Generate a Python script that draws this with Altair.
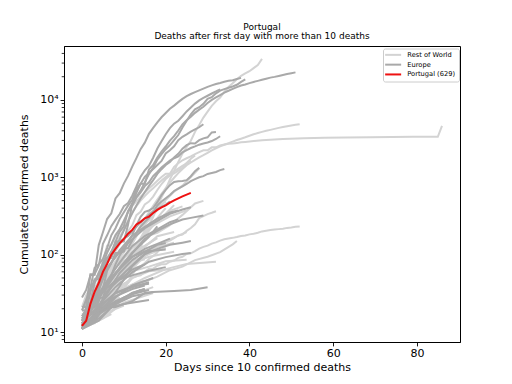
import altair as alt
import pandas as pd

# ---------------- data (days since first day with >10 deaths) ----------------
# daily lists start at day 0; lists of (day, value) pairs are sparse readings
US = [11, 12, 14, 17, 21, 22, 28, 36, 40, 47, 54, 63, 85, 108, 118, 200, 244, 307, 427, 552,
      706, 942, 1209, 1581, 2026, 2467, 2978, 3873, 4757, 5926, 7087, 8407, 9619, 10783,
      12722, 14695, 16478, 18586, 20463, 22020, 23529, 25832, 28325, 34000]
CHINA = [(0, 17), (1, 18), (2, 26), (3, 42), (4, 56), (5, 82), (6, 131), (7, 133), (8, 171),
         (9, 213), (10, 259), (11, 361), (12, 425), (13, 490), (14, 562), (15, 632), (16, 717),
         (17, 804), (18, 904), (19, 1011), (20, 1111), (21, 1116), (22, 1368), (23, 1520),
         (24, 1662), (25, 1765), (26, 1863), (27, 2002), (28, 2114), (29, 2236), (30, 2236),
         (31, 2441), (32, 2443), (33, 2593), (34, 2663), (35, 2715), (36, 2744), (37, 2788),
         (38, 2835), (39, 2870), (43, 3015), (48, 3136), (53, 3199), (58, 3249), (63, 3283),
         (69, 3309), (74, 3329), (79, 3339), (85, 3342), (86, 4636)]
IRAN = [12, 16, 19, 26, 34, 43, 54, 66, 77, 92, 107, 124, 145, 194, 237, 291, 354, 429, 514,
        611, 724, 853, 988, 1135, 1284, 1433, 1556, 1685, 1812, 1934, 2077, 2234, 2378, 2517,
        2640, 2757, 2898, 3036, 3160, 3294, 3452, 3603, 3739, 3872, 3993, 4110, 4232, 4357,
        4474, 4585, 4683, 4777, 4869]
KOREA = [11, 12, 13, 13, 16, 17, 28, 28, 35, 35, 42, 44, 50, 53, 54, 60, 66, 66, 72, 75, 75,
         81, 84, 91, 94, 102, 104, 111, 120, 126, 131, 139, 144, 152, 158, 162, 165, 169, 174,
         177, 183, 186, 192, 200, 204, 208, 211, 214, 217, 222, 225, 229, 232]
JAPAN = [(0, 15), (3, 21), (6, 28), (9, 33), (12, 41), (15, 45), (18, 52), (21, 63), (24, 70),
         (27, 85), (30, 94), (33, 108), (36, 136), (37, 150)]
PHILIPPINES = [12, 12, 14, 17, 17, 19, 25, 25, 33, 35, 38, 45, 54, 68, 71, 78, 88, 96, 107,
               136, 144, 152, 163, 177, 182, 203, 221, 247, 297, 315, 335, 349, 365]
BRAZIL = [11, 15, 25, 34, 46, 59, 77, 92, 111, 136, 159, 201, 240, 324, 359, 445, 486, 564,
          686, 819, 950, 1057, 1124, 1223, 1328, 1532, 1736, 1924]
TURKEY = [21, 30, 37, 44, 59, 75, 92, 108, 131, 168, 214, 277, 356, 425, 501, 574, 649, 725,
          812, 908, 1006, 1101, 1198, 1296, 1403, 1518, 1643]
CANADA = [(0, 12), (2, 13), (4, 24), (6, 35), (8, 54), (10, 89), (12, 137), (14, 217),
          (16, 280), (18, 381), (20, 507), (22, 654), (24, 780), (26, 1010), (28, 1310)]
MEXICO = [12, 16, 20, 28, 29, 37, 50, 60, 79, 94, 125, 141, 174, 194, 233, 273, 296, 332,
          406, 449, 486]
INDIA = [(0, 12), (3, 19), (6, 32), (8, 41), (11, 83), (14, 149), (17, 239), (20, 339), (22, 437)]
INDONESIA = [(0, 19), (3, 38), (6, 55), (9, 87), (12, 122), (15, 170), (18, 191), (21, 240),
             (24, 327), (27, 459), (29, 496)]
ECUADOR = [(0, 14), (3, 28), (6, 58), (9, 98), (12, 172), (15, 220), (18, 272), (21, 369), (24, 421)]
PERU = [(0, 11), (4, 24), (8, 73), (12, 121), (16, 216), (19, 348), (20, 400)]
ALGERIA = [(0, 15), (3, 21), (6, 31), (9, 44), (12, 105), (15, 205), (18, 256), (21, 313), (25, 375)]
EGYPT = [(0, 14), (3, 24), (6, 36), (10, 52), (13, 78), (17, 118), (21, 159), (25, 196)]
DOMINICAN = [(0, 11), (3, 28), (6, 51), (9, 86), (12, 108), (15, 126), (18, 173), (22, 196)]
ARGENTINA = [(0, 12), (4, 27), (8, 48), (12, 82), (16, 102), (20, 122)]
COLOMBIA = [(0, 12), (4, 25), (8, 54), (12, 100), (17, 153)]
PAKISTAN = [(0, 11), (4, 21), (8, 45), (12, 66), (15, 96), (18, 130)]
ISRAEL = [(0, 12), (4, 36), (8, 73), (12, 110), (15, 130), (18, 164)]
IRAQ = [(0, 11), (5, 20), (10, 36), (15, 50), (20, 65), (25, 76), (32, 81)]
CHILE = [(0, 12), (4, 22), (8, 48), (12, 73), (16, 105)]
PANAMA = [(0, 14), (4, 30), (8, 55), (12, 79), (16, 94), (22, 109)]
MOROCCO = [(0, 11), (4, 26), (8, 70), (12, 97), (16, 118), (22, 143)]
MALAYSIA = [(0, 14), (4, 27), (8, 43), (12, 61), (16, 70), (20, 82), (25, 86)]
AUSTRALIA = [(0, 13), (4, 20), (8, 35), (12, 50), (16, 61), (21, 65)]
SAUDI = [(0, 21), (4, 38), (8, 59), (12, 79), (15, 87)]
SOUTH_AFRICA = [(0, 11), (4, 18), (8, 27), (12, 50)]
BANGLADESH = [(0, 12), (4, 27), (8, 46), (11, 60)]
THAILAND = [(0, 12), (4, 20), (8, 33), (12, 41), (15, 46)]
TUNISIA = [(0, 12), (5, 18), (10, 28), (17, 38)]
BURKINA = [(0, 12), (5, 16), (10, 24), (17, 32)]
HONDURAS = [(0, 15), (5, 22), (10, 35), (15, 46)]
CUBA = [(0, 12), (5, 18), (9, 24)]
BOLIVIA = [(0, 11), (5, 20), (9, 28)]
AFGHANISTAN = [(0, 14), (5, 18), (9, 25)]
CAMEROON = [(0, 12), (5, 17), (10, 22)]
NIGER = [(0, 11), (5, 15), (8, 20)]
NIGERIA = [(0, 11), (4, 14), (7, 17)]

ITALY = [12, 17, 21, 29, 34, 52, 79, 107, 148, 197, 233, 366, 463, 631, 827, 827, 1266, 1441,
         1809, 2158, 2503, 2978, 3405, 4032, 4825, 5476, 6077, 6820, 7503, 8165, 9134, 10023,
         10779, 11591, 12428, 13155, 13915, 14681, 15362, 15887, 16523, 17127, 17669, 18279,
         18849, 19468, 19899, 20465, 21067, 21645, 22170, 22745]
SPAIN = [28, 35, 54, 55, 133, 195, 289, 342, 533, 623, 830, 1043, 1375, 1772, 2311, 2808, 3647,
         4365, 5138, 5982, 6803, 7716, 8464, 9387, 10348, 11198, 11947, 12641, 13341, 14045,
         14792, 15447, 16081, 16606, 17209, 17756, 18056, 18708, 19315]
FRANCE = [19, 19, 33, 48, 48, 79, 91, 91, 148, 148, 148, 243, 450, 562, 674, 860, 1100, 1331,
          1696, 1995, 2314, 2606, 3024, 3523, 4403, 5387, 6507, 7560, 8078, 8911, 10328, 10869,
          12210, 13197, 13832, 14393, 14967, 15729, 17167, 18500]
UK = [21, 21, 56, 56, 72, 138, 178, 234, 282, 336, 423, 466, 580, 761, 1021, 1231, 1411, 1793,
      2357, 2926, 3611, 4320, 4943, 5385, 6171, 7111, 7993, 8974, 9892, 10629, 11347, 12129,
      12894, 13759]
BELGIUM = [14, 21, 37, 67, 75, 88, 122, 178, 220, 289, 353, 431, 513, 705, 828, 1011, 1143,
           1283, 1447, 1632, 2035, 2240, 2523, 3019, 3346, 3600, 3903, 4157, 4440, 4857]
GERMANY = [11, 17, 24, 28, 44, 67, 84, 94, 123, 157, 206, 267, 342, 433, 533, 645, 775, 920,
           1107, 1275, 1444, 1584, 1810, 2016, 2349, 2607, 2767, 2736, 3022, 3194, 3294, 3804, 3860]
NETHERLANDS = [12, 20, 24, 43, 58, 76, 106, 136, 179, 213, 276, 356, 434, 546, 639, 771, 864,
               1039, 1173, 1339, 1487, 1651, 1766, 1867, 2101, 2248, 2396, 2511, 2643, 2737,
               2823, 2945, 3134, 3400]
SWITZERLAND = [11, 13, 14, 14, 27, 28, 41, 54, 75, 98, 120, 122, 153, 191, 231, 264, 300, 359,
               433, 488, 536, 591, 666, 715, 765, 821, 895, 948, 1002, 1036, 1106, 1138, 1174,
               1239, 1281]
SWEDEN = [11, 16, 20, 21, 25, 36, 62, 77, 105, 105, 110, 146, 180, 239, 308, 358, 373, 401,
          477, 591, 687, 793, 870, 887, 899, 919, 1033, 1203, 1333]
IRELAND = [(0, 19), (2, 36), (5, 71), (8, 137), (11, 174), (14, 263), (17, 365), (20, 444), (21, 486)]
AUSTRIA = [(0, 16), (3, 28), (6, 68), (9, 108), (12, 158), (15, 220), (18, 273), (21, 337),
           (24, 384), (26, 410)]
DENMARK = [(0, 14), (3, 24), (6, 41), (9, 65), (12, 104), (15, 161), (18, 203), (21, 247),
           (24, 285), (26, 299), (29, 321)]
POLAND = [(0, 16), (3, 26), (6, 46), (9, 79), (12, 129), (15, 174), (18, 212), (21, 263), (23, 286)]
ROMANIA = [(0, 11), (3, 26), (6, 65), (9, 115), (12, 176), (15, 229), (18, 293), (21, 351), (23, 372)]
NORWAY = [(0, 12), (3, 14), (6, 23), (9, 39), (12, 71), (15, 101), (18, 119), (21, 134),
          (24, 143), (26, 150)]
CZECHIA = [(0, 11), (3, 23), (6, 39), (9, 67), (12, 94), (15, 119), (18, 138), (21, 161)]
HUNGARY = [(0, 11), (3, 16), (6, 32), (9, 58), (12, 85), (15, 109), (18, 134), (20, 142)]
GREECE = [(0, 13), (4, 22), (8, 38), (12, 59), (16, 81), (20, 93), (24, 102), (26, 105)]
FINLAND = [(0, 11), (3, 17), (6, 34), (9, 48), (12, 64), (15, 75)]
SERBIA = [(0, 13), (3, 23), (6, 44), (9, 65), (12, 94), (15, 110), (20, 117)]
LUXEMBOURG = [(0, 15), (4, 30), (8, 46), (12, 54), (16, 62), (20, 69)]
SLOVENIA = [(0, 11), (4, 17), (8, 28), (12, 40), (17, 50)]
BOSNIA = [(0, 13), (4, 21), (8, 32), (12, 39), (16, 42)]
MACEDONIA = [(0, 11), (4, 20), (8, 32), (12, 38), (16, 44)]
MOLDOVA = [(0, 12), (4, 19), (8, 29), (12, 36), (15, 40)]
CROATIA = [(0, 12), (4, 18), (8, 25), (12, 31), (16, 35)]
SAN_MARINO = [(0, 14), (4, 20), (8, 21), (12, 25), (15, 32), (17, 33), (22, 34), (26, 35), (30, 38)]
BULGARIA = [(0, 11), (4, 14), (8, 24), (12, 32), (15, 36)]
ALBANIA = [(0, 15), (5, 20), (10, 23), (16, 26)]
ESTONIA = [(0, 11), (4, 19), (8, 24), (12, 31), (14, 35)]
LITHUANIA = [(0, 11), (4, 15), (8, 23), (12, 32), (15, 36)]
ANDORRA = [(0, 12), (4, 17), (8, 23), (12, 29), (17, 33)]
UKRAINE = [(0, 13), (4, 22), (8, 45), (12, 73), (16, 116)]
RUSSIA = [(0, 11), (4, 30), (8, 58), (12, 106), (16, 170), (18, 232)]

PORTUGAL = [12, 14, 23, 33, 43, 60, 76, 100, 119, 140, 160, 187, 209, 246, 266, 295, 311, 345,
            380, 409, 435, 470, 504, 535, 567, 599, 629]

REST_OF_WORLD = {
    "United States": US, "China": CHINA, "Iran": IRAN, "South Korea": KOREA, "Japan": JAPAN,
    "Philippines": PHILIPPINES, "Brazil": BRAZIL, "Turkey": TURKEY, "Canada": CANADA,
    "Mexico": MEXICO, "India": INDIA, "Indonesia": INDONESIA, "Ecuador": ECUADOR, "Peru": PERU,
    "Algeria": ALGERIA, "Egypt": EGYPT, "Dominican Republic": DOMINICAN, "Argentina": ARGENTINA,
    "Colombia": COLOMBIA, "Pakistan": PAKISTAN, "Israel": ISRAEL, "Iraq": IRAQ, "Chile": CHILE,
    "Panama": PANAMA, "Morocco": MOROCCO, "Malaysia": MALAYSIA, "Australia": AUSTRALIA,
    "Saudi Arabia": SAUDI, "South Africa": SOUTH_AFRICA, "Bangladesh": BANGLADESH,
    "Thailand": THAILAND, "Tunisia": TUNISIA, "Burkina Faso": BURKINA, "Honduras": HONDURAS,
    "Cuba": CUBA, "Bolivia": BOLIVIA, "Afghanistan": AFGHANISTAN, "Cameroon": CAMEROON,
    "Niger": NIGER, "Nigeria": NIGERIA,
}
EUROPE = {
    "Italy": ITALY, "Spain": SPAIN, "France": FRANCE, "United Kingdom": UK, "Belgium": BELGIUM,
    "Germany": GERMANY, "Netherlands": NETHERLANDS, "Switzerland": SWITZERLAND, "Sweden": SWEDEN,
    "Ireland": IRELAND, "Austria": AUSTRIA, "Denmark": DENMARK, "Poland": POLAND,
    "Romania": ROMANIA, "Norway": NORWAY, "Czechia": CZECHIA, "Hungary": HUNGARY,
    "Greece": GREECE, "Finland": FINLAND, "Serbia": SERBIA, "Luxembourg": LUXEMBOURG,
    "Slovenia": SLOVENIA, "Bosnia": BOSNIA, "North Macedonia": MACEDONIA, "Moldova": MOLDOVA,
    "Croatia": CROATIA, "San Marino": SAN_MARINO, "Bulgaria": BULGARIA, "Albania": ALBANIA,
    "Estonia": ESTONIA, "Lithuania": LITHUANIA, "Andorra": ANDORRA, "Ukraine": UKRAINE,
    "Russia": RUSSIA,
}

GROUPS = ["Rest of World", "Europe", "Portugal (629)"]
COLORS = ["#d3d3d3", "#a9a9a9", "#ee1111"]
X_TICKS = [0, 20, 40, 60, 80]
Y_TICKS = [10, 100, 1000, 10000]
Y_MINOR = [8, 9, 20, 30, 40, 50, 60, 70, 80, 90, 200, 300, 400, 500, 600, 700, 800, 900,
           2000, 3000, 4000, 5000, 6000, 7000, 8000, 9000, 20000, 30000, 40000]


def rows(name, group, series):
    out = []
    for i, item in enumerate(series):
        if isinstance(item, tuple):
            d, v = item
        else:
            d, v = i, item
        out.append({"country": name, "group": group, "day": d, "deaths": v})
    return out


records = []
for k, s in REST_OF_WORLD.items():
    records += rows(k, GROUPS[0], s)
for k, s in EUROPE.items():
    records += rows(k, GROUPS[1], s)
records += rows("Portugal", GROUPS[2], PORTUGAL)
df = pd.DataFrame(records)
minor_df = pd.DataFrame({"deaths": Y_MINOR})

FONT = "DejaVu Sans"

x_enc = alt.X("day:Q", scale=alt.Scale(domain=[-4.3, 90.3], nice=False, zero=False),
              axis=alt.Axis(values=X_TICKS, title="Days since 10 confirmed deaths", grid=False,
                            format="d"))
y_enc = alt.Y("deaths:Q", scale=alt.Scale(type="log", domain=[7.43, 49900], nice=False),
              axis=alt.Axis(values=Y_TICKS, title="Cumulated confirmed deaths", grid=False,
                            labelExpr="datum.value == 10 ? '10¹' : datum.value == 100 ? '10²' : datum.value == 1000 ? '10³' : '10⁴'"))
color_enc = alt.Color("group:N", scale=alt.Scale(domain=GROUPS, range=COLORS),
                      legend=alt.Legend(title=None, orient="none", legendX=319, legendY=2.5,
                                        symbolType="M-4,0H4", symbolStrokeWidth=2,
                                        symbolSize=16, symbolOffset=3.8,
                                        labelFontSize=6.7, labelFont=FONT, labelColor="black",
                                        fillColor="white", strokeColor="#cccccc",
                                        padding=3, cornerRadius=2, rowPadding=0.8,
                                        labelOffset=10.8))

base = alt.Chart(df).encode(x=x_enc, y=y_enc, color=color_enc, detail="country:N",
                            order="day:Q")

row_layer = base.transform_filter(alt.datum.group == GROUPS[0]).mark_line(strokeWidth=2)
eu_layer = base.transform_filter(alt.datum.group == GROUPS[1]).mark_line(strokeWidth=2)
pt_layer = base.transform_filter(alt.datum.group == GROUPS[2]).mark_line(strokeWidth=2)

minor = alt.Chart(minor_df).mark_rule(color="black", strokeWidth=0.8).encode(
    y=alt.Y("deaths:Q"), x=alt.value(0), x2=alt.value(-2.3))

chart = alt.layer(row_layer, eu_layer, pt_layer, minor).properties(
    width=396, height=296,
    title=alt.TitleParams(text=["Portugal", "Deaths after first day with more than 10 deaths"],
                          fontSize=9, font=FONT, fontWeight="normal", anchor="middle",
                          color="black", lineHeight=9, offset=5),
    autosize=alt.AutoSizeParams(type="none"),
    padding={"left": 56, "top": 38, "right": 8, "bottom": 40},
).configure_view(stroke="black", strokeWidth=1).configure_axis(
    labelFont=FONT, titleFont=FONT, labelFontSize=11, titleFontSize=11, labelColor="black",
    titleColor="black", titleFontWeight="normal", tickColor="black", domainColor="black",
    tickSize=3.9, tickWidth=0.9, domainWidth=1, labelPadding=2,
).configure_axisX(titlePadding=3).configure_axisY(titlePadding=10)

chart.save("out.html", embed_options={"renderer": "svg", "actions": False})
